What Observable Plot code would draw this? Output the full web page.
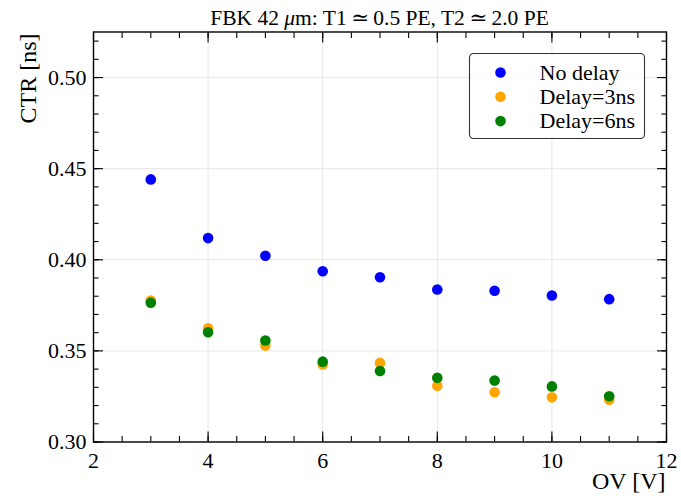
<!DOCTYPE html>
<html><head><meta charset="utf-8">
<script src="https://cdn.jsdelivr.net/npm/d3@7"></script>
<script src="https://cdn.jsdelivr.net/npm/@observablehq/plot@0.6"></script>
<style>
body{margin:0;background:#fff}
#chart svg{display:block}
#chart svg text{font-family:"Liberation Serif","Times New Roman","DejaVu Serif",serif !important}
</style>
</head><body><div id="chart"></div>
<script>
const ov = [3, 4, 5, 6, 7, 8, 9, 10, 11];
const noDelay = [0.4441, 0.4119, 0.4022, 0.3937, 0.3904, 0.3837, 0.3830, 0.3804, 0.3784];
const delay3  = [0.3776, 0.3624, 0.3529, 0.3425, 0.3434, 0.3308, 0.3273, 0.3245, 0.3232];
const delay6  = [0.3764, 0.3602, 0.3557, 0.3441, 0.3390, 0.3352, 0.3337, 0.3305, 0.3251];
const seriesNames = ["No delay", "Delay=3ns", "Delay=6ns"];
const seriesColors = ["blue", "orange", "green"];
const xMajor = [2, 4, 6, 8, 10, 12];
const yMajor = [0.30, 0.35, 0.40, 0.45, 0.50];
const xMinor = d3.range(2, 12.01, 0.5);
const yMinor = d3.range(0.30, 0.5251, 0.01);
const titleParts = [["FBK 42 ", "normal"], ["\u03bc", "italic"], ["m: T1\u2009\u2243\u20090.5 PE, T2\u2009\u2243\u20092.0 PE", "normal"]];
const xLabel = "OV [V]";
const yLabel = "CTR [ns]";

const data = [];
[noDelay, delay3, delay6].forEach((vals, i) =>
  vals.forEach((v, j) => data.push({ov: ov[j], ctr: v, series: seriesNames[i]})));

const FF = '"Liberation Serif", "Times New Roman", serif';
const tickStroke = {stroke: "black", strokeWidth: 1.1};
const fontSz = 22;

const plot = Plot.plot({
  width: 681, height: 496,
  marginLeft: 93, marginRight: 15, marginTop: 31.5, marginBottom: 54.5,
  style: {fontFamily: FF, fontSize: fontSz + "px", background: "white", color: "black", overflow: "visible"},
  x: {domain: [2, 12]},
  y: {domain: [0.30, 0.525]},
  color: {domain: seriesNames, range: seriesColors},
  marks: [
    Plot.gridX(xMajor, {stroke: "#e4e4e4", strokeOpacity: 1, strokeWidth: 0.9}),
    Plot.gridY(yMajor, {stroke: "#e4e4e4", strokeOpacity: 1, strokeWidth: 0.9}),
    Plot.axisX(xMajor, {anchor: "bottom", tickSize: 0, tickPadding: 10, label: null, fontSize: fontSz, fontFamily: FF}),
    Plot.axisY(yMajor, {anchor: "left", tickSize: 0, tickPadding: 7, label: null, fontSize: fontSz, fontFamily: FF, tickFormat: d3.format(".2f")}),
    Plot.axisX(xMajor, {anchor: "bottom", tickSize: -10, fill: "none", label: null, ...tickStroke}),
    Plot.axisX(xMinor, {anchor: "bottom", tickSize: -5.5, fill: "none", label: null, ...tickStroke}),
    Plot.axisX(xMajor, {anchor: "top", tickSize: -10, fill: "none", label: null, ...tickStroke}),
    Plot.axisX(xMinor, {anchor: "top", tickSize: -5.5, fill: "none", label: null, ...tickStroke}),
    Plot.axisY(yMajor, {anchor: "left", tickSize: -10, fill: "none", label: null, ...tickStroke}),
    Plot.axisY(yMinor, {anchor: "left", tickSize: -5.5, fill: "none", label: null, ...tickStroke}),
    Plot.axisY(yMajor, {anchor: "right", tickSize: -10, fill: "none", label: null, ...tickStroke}),
    Plot.axisY(yMinor, {anchor: "right", tickSize: -5.5, fill: "none", label: null, ...tickStroke}),
    Plot.frame({stroke: "black", strokeWidth: 1.4}),
    Plot.dot(data, {x: "ov", y: "ctr", fill: "series", r: 5.3, stroke: "none"}),
    Plot.text([xLabel], {frameAnchor: "bottom-right", dy: 47, dx: -1, textAnchor: "end", lineAnchor: "bottom", fontSize: 24, fontFamily: FF, text: d => d}),
    Plot.text([yLabel], {frameAnchor: "top-left", dx: -58, dy: 1.5, rotate: -90, textAnchor: "end", lineAnchor: "bottom", fontSize: 24, fontFamily: FF, text: d => d})
  ]
});

const svg = d3.select(plot);
// title
const tt = svg.append("text").attr("x", (93 + 666) / 2).attr("y", 25)
  .attr("text-anchor", "middle").attr("font-size", 21.5).attr("fill", "black");
titleParts.forEach(([s, st]) => tt.append("tspan").attr("font-style", st).text(s));

// legend
const color = plot.scale("color");
const lg = svg.append("g").attr("transform", "translate(469.5,53.5)").attr("text-anchor", "start");
lg.append("rect").attr("width", 175).attr("height", 85).attr("rx", 4).attr("ry", 4)
  .attr("fill", "white").attr("fill-opacity", 0.85).attr("stroke", "#333").attr("stroke-width", 1.1);
seriesNames.forEach((name, i) => {
  const yy = 19 + i * 24.3;
  lg.append("circle").attr("cx", 31).attr("cy", yy).attr("r", 5.3).attr("fill", color.apply(name));
  lg.append("text").attr("x", 70).attr("y", yy).attr("dy", "0.33em").attr("text-anchor", "start")
    .attr("font-size", 22).attr("fill", "black").text(name);
});

document.getElementById("chart").appendChild(plot);
</script>
</body></html>
